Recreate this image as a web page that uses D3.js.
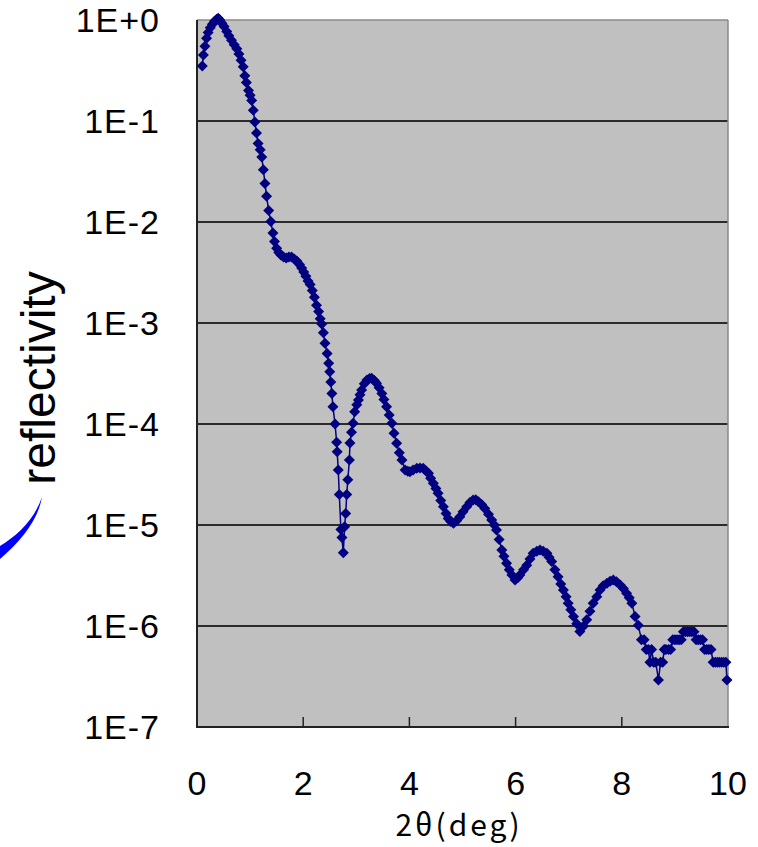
<!DOCTYPE html>
<html><head><meta charset="utf-8">
<script src="https://cdn.jsdelivr.net/npm/d3@7"></script>
<style>html,body{margin:0;padding:0;background:#fff;} svg{display:block;}</style>
</head><body><svg id="c" width="758" height="847"></svg>
<script>
// ---- data ----
const twoTheta = [
0.10,0.12,0.15,0.18,0.21,0.25,0.29,0.33,0.37,0.40,
0.43,0.47,0.51,0.56,0.60,0.65,0.70,0.75,0.79,0.83,
0.87,0.90,0.93,0.97,1.00,1.03,1.06,1.09,1.12,1.15,
1.19,1.22,1.25,1.28,1.31,1.35,1.39,1.43,1.46,1.50,
1.54,1.58,1.63,1.68,1.73,1.78,1.83,1.88,1.93,1.97,
2.01,2.05,2.09,2.13,2.17,2.21,2.25,2.29,2.32,2.35,
2.38,2.41,2.45,2.48,2.50,2.52,2.54,2.56,2.60,2.63,
2.64,2.66,2.68,2.71,2.73,2.755,2.78,2.80,2.82,2.84,
2.87,2.88,2.91,2.94,2.97,3.01,3.04,3.07,3.10,3.15,
3.20,3.25,3.29,3.34,3.38,3.43,3.48,3.52,3.57,3.62,
3.67,3.71,3.76,3.81,3.86,3.92,3.97,4.01,4.07,4.14,
4.20,4.26,4.31,4.36,4.40,4.45,4.50,4.54,4.59,4.64,
4.69,4.73,4.78,4.83,4.89,4.95,5.01,5.08,5.14,5.20,
5.25,5.30,5.36,5.42,5.49,5.55,5.60,5.64,5.69,5.74,
5.78,5.83,5.88,5.93,5.99,6.04,6.08,6.15,6.21,6.27,
6.33,6.40,6.46,6.52,6.59,6.63,6.68,6.74,6.80,6.85,
6.90,6.95,6.99,7.04,7.09,7.15,7.21,7.28,7.34,7.40,
7.46,7.53,7.59,7.65,7.72,7.78,7.84,7.90,7.97,8.03,
8.09,8.14,8.19,8.25,8.31,8.37,8.42,8.46,8.50,8.53,
8.56,8.60,8.64,8.69,8.73,8.77,8.80,8.83,8.88,8.92,
8.96,9.00,9.04,9.08,9.12,9.16,9.20,9.24,9.28,9.32,
9.36,9.40,9.44,9.48,9.52,9.56,9.60,9.64,9.68,9.72,
9.76,9.80,9.84,9.88,9.92,9.96,9.98
];
const reflectivity = [
0.35,0.45,0.55,0.66,0.75,0.84,0.91,0.97,1.02,1.04,
1.0,0.93,0.86,0.77,0.70,0.63,0.57,0.52,0.46,0.40,
0.345,0.28,0.24,0.20,0.18,0.16,0.128,0.098,0.076,0.060,
0.052,0.044,0.033,0.024,0.018,0.013,0.0101,0.0078,0.0064,0.0055,
0.0050,0.0047,0.0045,0.0044,0.0045,0.0045,0.0043,0.0041,0.0038,0.0035,
0.0032,0.0029,0.0026,0.0024,0.0021,0.0018,0.0015,0.0013,0.0011,9.8e-4,
8.0e-4,6.3e-4,5.0e-4,4.0e-4,3.3e-4,2.6e-4,2.0e-4,1.48e-4,1.0e-4,6.6e-5,
5.3e-5,3.5e-5,2.0e-5,9.0e-6,7.5e-6,5.3e-6,9.6e-6,1.3e-5,2.0e-5,2.8e-5,
4.4e-5,6.5e-5,8.3e-5,1.02e-4,1.32e-4,1.55e-4,1.73e-4,1.95e-4,2.17e-4,2.5e-4,
2.73e-4,2.82e-4,2.83e-4,2.7e-4,2.53e-4,2.28e-4,2.01e-4,1.75e-4,1.48e-4,1.23e-4,
1.02e-4,8.1e-5,6.45e-5,5.2e-5,4.4e-5,3.5e-5,3.4e-5,3.37e-5,3.5e-5,3.64e-5,
3.66e-5,3.64e-5,3.45e-5,3.25e-5,2.9e-5,2.59e-5,2.3e-5,2.06e-5,1.75e-5,1.52e-5,
1.3e-5,1.16e-5,1.08e-5,1.04e-5,1.1e-5,1.21e-5,1.35e-5,1.52e-5,1.67e-5,1.77e-5,
1.78e-5,1.7e-5,1.6e-5,1.46e-5,1.28e-5,1.12e-5,1.0e-5,8.9e-6,7.2e-6,5.65e-6,
4.9e-6,4.18e-6,3.6e-6,3.2e-6,2.85e-6,3.0e-6,3.2e-6,3.6e-6,4.0e-6,4.6e-6,
5.25e-6,5.5e-6,5.65e-6,5.5e-6,5.25e-6,4.8e-6,4.34e-6,3.6e-6,3.08e-6,2.6e-6,
2.27e-6,1.95e-6,1.68e-6,1.45e-6,1.24e-6,1.05e-6,8.8e-7,1.0e-6,1.15e-6,1.4e-6,
1.68e-6,1.95e-6,2.27e-6,2.5e-6,2.65e-6,2.78e-6,2.85e-6,2.75e-6,2.55e-6,2.35e-6,
2.11e-6,1.9e-6,1.68e-6,1.24e-6,1.02e-6,7.3e-7,7.3e-7,5.84e-7,5.84e-7,4.38e-7,
5.84e-7,4.38e-7,4.38e-7,2.92e-7,4.38e-7,4.38e-7,5.84e-7,5.84e-7,5.84e-7,5.84e-7,
7.3e-7,7.3e-7,7.3e-7,7.3e-7,7.3e-7,8.76e-7,8.76e-7,8.76e-7,8.76e-7,8.76e-7,
8.76e-7,7.3e-7,7.3e-7,7.3e-7,7.3e-7,5.84e-7,5.84e-7,5.84e-7,5.84e-7,4.38e-7,
4.38e-7,4.38e-7,4.38e-7,4.38e-7,4.38e-7,4.38e-7,2.92e-7
];
const yTickValues = [1, 1e-1, 1e-2, 1e-3, 1e-4, 1e-5, 1e-6, 1e-7];
const yTickLabels = ["1E+0","1E-1","1E-2","1E-3","1E-4","1E-5","1E-6","1E-7"];
const xTickValues = [0, 2, 4, 6, 8, 10];
const xTickLabels = ["0","2","4","6","8","10"];
const xTitle = "2θ(deg)";
const yTitle = "reflectivity";

// ---- layout ----
const plot = {left:197, right:728, top:20, bottom:727};
const svg = d3.select("#c");
const x = d3.scaleLinear().domain([0,10]).range([plot.left, plot.right]);
const y = d3.scaleLog().domain([1e-7,1]).range([plot.bottom, plot.top]);
const font = "'Liberation Sans', Arial, sans-serif";

// plot background
svg.append("rect").attr("x",plot.left).attr("y",plot.top)
  .attr("width",plot.right-plot.left).attr("height",plot.bottom-plot.top)
  .attr("fill","#c0c0c0");

// gridlines
svg.append("g").selectAll("line").data(yTickValues.filter(v=>v<1 && v>1e-7)).join("line")
  .attr("x1",plot.left).attr("x2",plot.right)
  .attr("y1",d=>y(d)).attr("y2",d=>y(d))
  .attr("stroke","#2b2b2b").attr("stroke-width",2);

// frame: top/right grey, left/bottom dark
svg.append("line").attr("x1",plot.left).attr("x2",plot.right).attr("y1",plot.top).attr("y2",plot.top)
  .attr("stroke","#8a8a8a").attr("stroke-width",1.5);
svg.append("line").attr("x1",plot.right).attr("x2",plot.right).attr("y1",plot.top).attr("y2",plot.bottom)
  .attr("stroke","#8a8a8a").attr("stroke-width",1.5);
svg.append("line").attr("x1",plot.left).attr("x2",plot.left).attr("y1",plot.top).attr("y2",plot.bottom+1)
  .attr("stroke","#222").attr("stroke-width",2);
svg.append("line").attr("x1",plot.left-1).attr("x2",plot.right+1).attr("y1",plot.bottom).attr("y2",plot.bottom)
  .attr("stroke","#222").attr("stroke-width",2);

// x ticks (inside)
svg.append("g").selectAll("line").data(xTickValues.filter(v=>v>0 && v<10)).join("line")
  .attr("x1",d=>x(d)).attr("x2",d=>x(d))
  .attr("y1",plot.bottom).attr("y2",plot.bottom-10)
  .attr("stroke","#222").attr("stroke-width",1.5);

// y labels
svg.append("g").selectAll("text").data(yTickValues).join("text")
  .attr("x",160).attr("y",d=>y(d)).attr("dy","0.36em")
  .attr("text-anchor","end").attr("font-family",font).attr("font-size",34).attr("fill","#000")
  .attr("letter-spacing",1)
  .text((d,i)=>yTickLabels[i]);

// x labels
svg.append("g").selectAll("text").data(xTickValues).join("text")
  .attr("x",d=>x(d)).attr("y",795)
  .attr("text-anchor","middle").attr("font-family",font).attr("font-size",34).attr("fill","#000")
  .text((d,i)=>xTickLabels[i]);

// axis titles
svg.append("text").attr("x",459).attr("y",836).attr("text-anchor","middle")
  .attr("font-family","'Noto Sans CJK JP', 'Liberation Sans', sans-serif").attr("font-size",30)
  .attr("letter-spacing",3).attr("fill","#000")
  .text(xTitle);
svg.append("text").attr("transform","translate(55,378) rotate(-90)").attr("text-anchor","middle")
  .attr("font-family",font).attr("font-size",48).attr("fill","#000")
  .text(yTitle);

// decorative blue swoosh
svg.append("path")
  .attr("d","M42,497 C38,520 22,540 0,559 L0,546 C18,535 34,520 42,497 Z")
  .attr("fill","#0000ff");

// series
const pts = twoTheta.map((t,i)=>[t, reflectivity[i]]);
const navy = "#000080";
svg.append("path").datum(pts)
  .attr("d", d3.line().x(d=>x(d[0])).y(d=>y(d[1])))
  .attr("fill","none").attr("stroke",navy).attr("stroke-width",1.5);
svg.append("g").selectAll("path").data(pts).join("path")
  .attr("transform",d=>`translate(${x(d[0])},${y(d[1])})`)
  .attr("d","M0,-5.5L5.5,0L0,5.5L-5.5,0Z")
  .attr("fill",navy);
</script>
</body></html>
